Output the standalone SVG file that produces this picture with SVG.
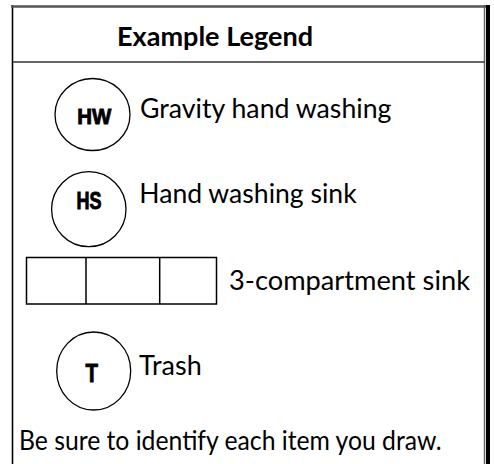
<svg xmlns="http://www.w3.org/2000/svg" width="494" height="464" viewBox="0 0 494 464">
<style>
.t{font-family:Lato,"Liberation Sans",sans-serif;font-size:27px;fill:#000}
.b{font-weight:bold}
.sym{font-family:"Liberation Sans",Arial,sans-serif;font-weight:bold;fill:#000;stroke:#000;stroke-width:0.9;text-anchor:middle}
.shape{fill:#fff;stroke:#000;stroke-width:1.3}
</style>
<rect x="0" y="0" width="494" height="464" fill="#fff"/>
<g id="frame">
  <line x1="12.5" y1="5" x2="12.5" y2="464" stroke="#000" stroke-width="1.6"/>
  <line x1="484.5" y1="5" x2="484.5" y2="464" stroke="#666" stroke-width="1.5"/>
  <rect x="486" y="5" width="4" height="459" fill="#000"/>
  <line x1="11" y1="6.5" x2="486" y2="6.5" stroke="#555" stroke-width="2.5"/>
  <line x1="12.5" y1="62" x2="484.5" y2="62" stroke="#333" stroke-width="1.6"/>
</g>
<g id="title">
  <text class="t b" x="117" y="46" textLength="196" lengthAdjust="spacingAndGlyphs">Example Legend</text>
</g>
<g id="hw">
  <ellipse class="shape" cx="92.5" cy="114.5" rx="37.5" ry="36"/>
  <text class="sym" x="94.2" y="124" font-size="22" textLength="34" lengthAdjust="spacingAndGlyphs">HW</text>
  <text class="t" x="140" y="117.7" textLength="251.5" lengthAdjust="spacingAndGlyphs">Gravity hand washing</text>
</g>
<g id="hs">
  <ellipse class="shape" cx="88.8" cy="209.2" rx="37.2" ry="37.5"/>
  <text class="sym" x="88.9" y="208.8" font-size="23" textLength="25" lengthAdjust="spacingAndGlyphs">HS</text>
  <text class="t" x="139.3" y="203.3" textLength="217.4" lengthAdjust="spacingAndGlyphs">Hand washing sink</text>
</g>
<g id="sink3">
  <rect x="26.5" y="257.5" width="190" height="46.5" fill="#fff" stroke="#000" stroke-width="1.5"/>
  <line x1="86" y1="257.5" x2="86" y2="304" stroke="#000" stroke-width="1.5"/>
  <line x1="159.7" y1="257.5" x2="159.7" y2="304" stroke="#000" stroke-width="1.5"/>
  <text class="t" x="229" y="290" textLength="241" lengthAdjust="spacingAndGlyphs">3-compartment sink</text>
</g>
<g id="trash">
  <ellipse class="shape" cx="93.7" cy="371" rx="37" ry="39"/>
  <text class="sym" x="91.7" y="381.5" font-size="25" textLength="12.5" lengthAdjust="spacingAndGlyphs">T</text>
  <text class="t" x="139" y="375" textLength="62.7" lengthAdjust="spacingAndGlyphs">Trash</text>
</g>
<g id="note">
  <text class="t" x="19" y="450" textLength="422.7" lengthAdjust="spacingAndGlyphs">Be sure to identify each item you draw.</text>
</g>
<g id="connectors"></g>
</svg>
